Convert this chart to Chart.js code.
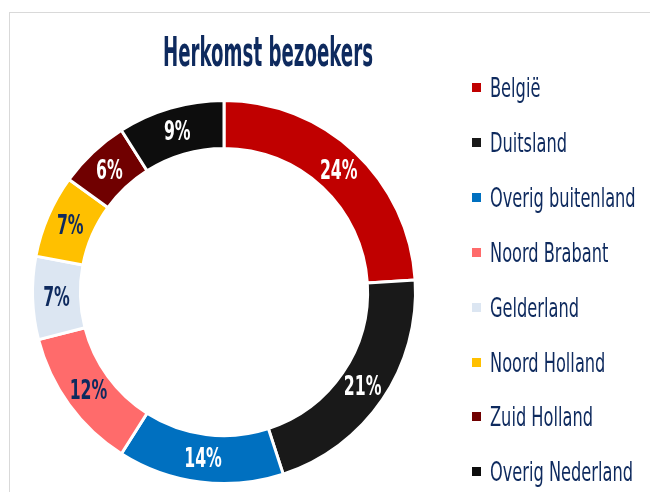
<!DOCTYPE html>
<html>
<head>
<meta charset="utf-8">
<script src="https://cdn.jsdelivr.net/npm/chart.js@4/dist/chart.umd.min.js"></script>
<style>
  html, body { margin: 0; padding: 0; background: #fff; }
  #wrap { width: 650px; height: 492px; position: relative; }
</style>
</head>
<body>
<div id="wrap"><canvas id="c" width="650" height="492"></canvas></div>
<script>
const titleText = 'Herkomst bezoekers';
const categories = ['België', 'Duitsland', 'Overig buitenland', 'Noord Brabant', 'Gelderland', 'Noord Holland', 'Zuid Holland', 'Overig Nederland'];
const percentages = [24, 21, 14, 12, 7, 7, 6, 9];
const sliceColors = ['#C00000', '#191919', '#0070C0', '#FF6B6B', '#DCE6F2', '#FFC000', '#700000', '#0D0D0D'];
const labelColors = ['#FFFFFF', '#FFFFFF', '#FFFFFF', '#0E2A5E', '#0E2A5E', '#0E2A5E', '#FFFFFF', '#FFFFFF'];

const NAVY = '#0E2A5E';
const FONT = '"Liberation Sans Narrow", "DejaVu Sans Condensed", "Liberation Sans", sans-serif';

function drawCondensed(ctx, text, x, y, font, sx, align) {
  ctx.save();
  ctx.font = font;
  const w = ctx.measureText(text).width * sx;
  let x0 = x;
  if (align === 'center') x0 = x - w / 2;
  else if (align === 'right') x0 = x - w;
  ctx.translate(x0, y);
  ctx.scale(sx, 1);
  ctx.textAlign = 'left';
  ctx.fillText(text, 0, 0);
  ctx.restore();
}

const framePlugin = {
  id: 'frame',
  beforeDraw(chart) {
    const ctx = chart.ctx;
    ctx.save();
    ctx.strokeStyle = '#D9D9D9';
    ctx.lineWidth = 1;
    ctx.strokeRect(9.5, 12.5, 800, 600);
    ctx.restore();
  }
};

const textPlugin = {
  id: 'texts',
  afterDatasetsDraw(chart) {
    const ctx = chart.ctx;
    ctx.save();
    ctx.textBaseline = 'alphabetic';

    // title
    const tFont = 'bold 41px ' + FONT;
    ctx.font = tFont;
    const tsx = 210 / ctx.measureText(titleText).width;
    ctx.fillStyle = NAVY;
    drawCondensed(ctx, titleText, 268, 66, tFont, tsx, 'center');

    // slice labels
    const lFont = 'bold 26px ' + FONT;
    ctx.font = lFont;
    const lsx = 37.6 / ctx.measureText('24%').width;
    const meta = chart.getDatasetMeta(0);
    meta.data.forEach((arc, i) => {
      const p = arc.getProps(['x', 'y', 'startAngle', 'endAngle', 'innerRadius', 'outerRadius'], true);
      const mid = (p.startAngle + p.endAngle) / 2;
      const r = (p.innerRadius + p.outerRadius) / 2;
      const x = p.x + Math.cos(mid) * r;
      const y = p.y + Math.sin(mid) * r;
      ctx.fillStyle = labelColors[i];
      drawCondensed(ctx, percentages[i] + '%', x, y + 9, lFont, lsx, 'center');
    });

    // legend
    const gFont = '27px ' + FONT;
    ctx.font = gFont;
    const gsx = 143 / ctx.measureText('Overig Nederland').width;
    categories.forEach((name, i) => {
      const base = 97 + i * 54.9;
      ctx.fillStyle = sliceColors[i];
      ctx.fillRect(472, Math.round(base - 14), 9, 9);
      ctx.fillStyle = NAVY;
      drawCondensed(ctx, name, 490, base, gFont, gsx, 'left');
    });
    ctx.restore();
  }
};

new Chart(document.getElementById('c'), {
  type: 'doughnut',
  data: {
    labels: categories,
    datasets: [{
      data: percentages,
      backgroundColor: sliceColors,
      borderColor: '#FFFFFF',
      borderWidth: 3
    }]
  },
  options: {
    responsive: false,
    animation: false,
    cutout: '75%',
    layout: { padding: { left: 31, right: 233, top: 99, bottom: 7 } },
    plugins: {
      legend: { display: false },
      title: { display: false },
      tooltip: { enabled: false }
    }
  },
  plugins: [framePlugin, textPlugin]
});
</script>
</body>
</html>
